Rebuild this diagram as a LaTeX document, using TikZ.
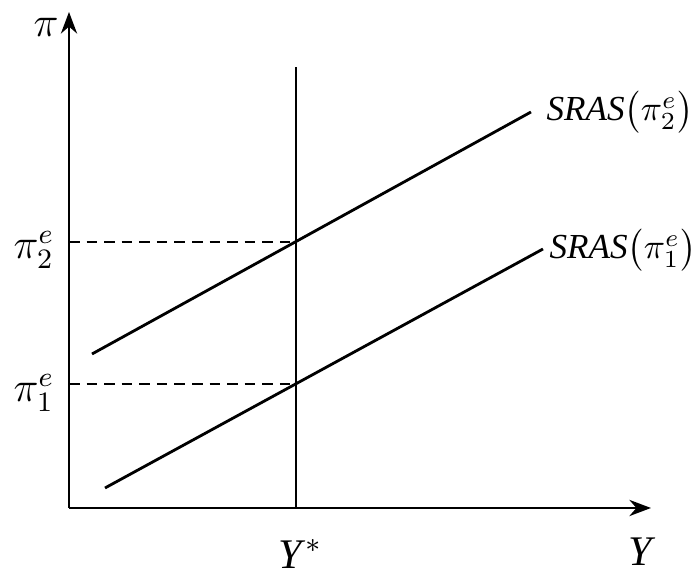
\documentclass[tikz,border=0pt]{standalone}
\usepackage{fontspec}
\setmainfont{Liberation Serif}
\usetikzlibrary{arrows.meta}

\begin{document}
\begin{tikzpicture}[x=0.1mm,y=0.1mm,font=\large,>=Stealth,
  axis/.style={line width=0.7pt,->},
  curve/.style={line width=0.8pt},
  guide/.style={line width=0.6pt,dash pattern=on 3pt off 2pt},
  srastag/.style={anchor=east,font=\normalsize,inner sep=0pt}]
\useasboundingbox (0,0) rectangle (700,580);
% axes
\coordinate (O) at (69,72);
\coordinate (ytop) at (69,568);
\coordinate (xend) at (651,72);
\draw[axis] (O) -- (ytop);
\draw[axis] (O) -- (xend);
\node (pi) at (46,553) {$\pi$};
\node (Y) at (642,28) {\textit{Y}};
% natural output
\coordinate (Ybot) at (296,72);
\coordinate (Ytop) at (296,513);
\draw[curve] (Ybot) -- (Ytop);
\node (Ystar) at (300,26) {\textit{Y}$^{*}$};
% SRAS curves
\coordinate (A1) at (105,92);
\coordinate (B1) at (543,331);
\coordinate (A2) at (92,226);
\coordinate (B2) at (531,468);
\draw[curve] (A1) -- (B1);
\draw[curve] (A2) -- (B2);
\node[srastag] (sras2) at (694,468) {\textit{SRAS}$\bigl(\pi_2^e\bigr)$};
\node[srastag] (sras1) at (697,330) {\textit{SRAS}$\bigl(\pi_1^e\bigr)$};
% expected inflation levels
\coordinate (E1) at (296,196);
\coordinate (E2) at (296,338);
\node (pi1) at (34,187) {$\pi_1^e$};
\node (pi2) at (34,330) {$\pi_2^e$};
\draw[guide] (O |- E1) -- (E1);
\draw[guide] (O |- E2) -- (E2);
\end{tikzpicture}
\end{document}
